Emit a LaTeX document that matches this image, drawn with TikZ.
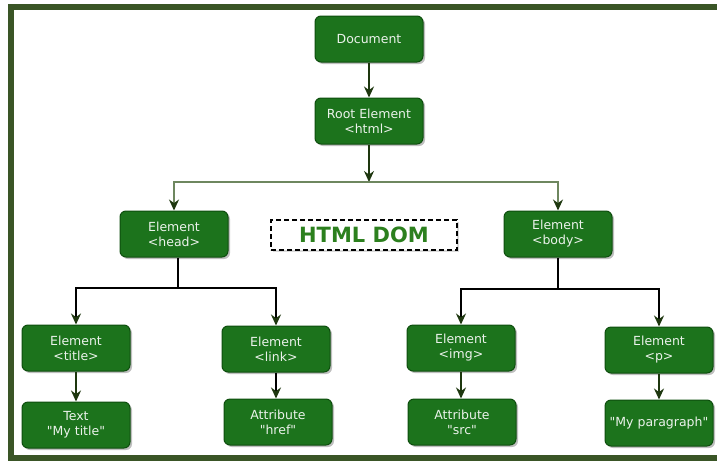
\documentclass[tikz,border=0pt]{standalone}
\usepackage{fontspec}
\setmainfont{DejaVu Sans}
\usetikzlibrary{arrows.meta,shadows}
\definecolor{boxfill}{RGB}{28,115,28}
\definecolor{boxdraw}{RGB}{14,78,14}
\definecolor{frame}{RGB}{58,85,38}
\definecolor{arrowc}{RGB}{30,55,15}
\definecolor{splitc}{RGB}{110,135,95}
\definecolor{domc}{RGB}{44,128,30}
\definecolor{txtc}{RGB}{235,242,235}
\tikzset{
  box/.style={draw=boxdraw, line width=1pt, fill=boxfill, rounded corners=6pt,
    minimum width=108pt, minimum height=46pt, inner sep=0pt, align=center,
    text=txtc, font=\fontsize{12.5}{15}\selectfont,
    drop shadow={shadow xshift=2pt, shadow yshift=-2pt, opacity=0.25, fill=black}},
  arr/.style={draw=arrowc, line width=1.6pt, -{Stealth[length=11pt,width=10pt]}},
  plain/.style={draw=black, line width=1.6pt},
  splitarr/.style={draw=splitc, line width=1.3pt, -{Stealth[length=11pt,width=10pt,color=arrowc]}},
  blackarr/.style={draw=black, line width=1.6pt, -{Stealth[length=11pt,width=10pt,color=arrowc]}},
}
\begin{document}
\begin{tikzpicture}[x=1pt,y=-1pt]
\useasboundingbox (0,0) rectangle (717,461);
\fill[white] (0,0) rectangle (717,461);
\draw[frame, line width=6pt] (10.5,7) rectangle (730,457.5);

\node[box] (doc) at (369,39) {Document};
\node[box] (root) at (369,121) {Root Element\\<html>};
\node[box] (head) at (174,234) {Element\\<head>};
\node[box] (body) at (558,234) {Element\\<body>};
\node[draw=black, fill=white, dash pattern=on 5pt off 3pt, line width=1.6pt, minimum width=186pt, minimum height=30pt,
  inner sep=0pt, text=domc, font=\fontsize{21}{24}\selectfont\bfseries,
  drop shadow={shadow xshift=1.5pt, shadow yshift=-1.5pt, opacity=0.15, fill=black}] (dom) at (364,235) {HTML DOM};
\node[box] (title) at (76,348) {Element\\<title>};
\node[box] (link) at (276,349) {Element\\<link>};
\node[box] (img) at (461,348) {Element\\<img>};
\node[box] (p) at (659,350) {Element\\<p>};
\node[box] (text) at (76,425) {Text\\\textquotedbl My title\textquotedbl};
\node[box] (href) at (278,422) {Attribute\\\textquotedbl href\textquotedbl};
\node[box] (src) at (462,422) {Attribute\\\textquotedbl src\textquotedbl};
\node[box] (para) at (659,423) {\textquotedbl My paragraph\textquotedbl};

\coordinate (j1) at (369,182);
\coordinate (j2) at (178,288);
\coordinate (j3) at (558,289);

\draw[arr] (doc) -- (root);
\draw[arr] (root) -- (j1);
\draw[splitarr] (j1) -| (head);
\draw[splitarr] (j1) -| (body);

\draw[plain] (head.south -| j2) -- (j2);
\draw[blackarr] (j2) -| (title);
\draw[blackarr] (j2) -| (link);

\draw[plain] (body) -- (j3);
\draw[blackarr] (j3) -| (img);
\draw[blackarr] (j3) -| (p);

\draw[arr] (title) -- (text);
\draw[blackarr] (link.south) -- (href.north -| link.south);
\draw[arr] (img.south) -- (src.north -| img.south);
\draw[arr] (p) -- (para);
\end{tikzpicture}
\end{document}
